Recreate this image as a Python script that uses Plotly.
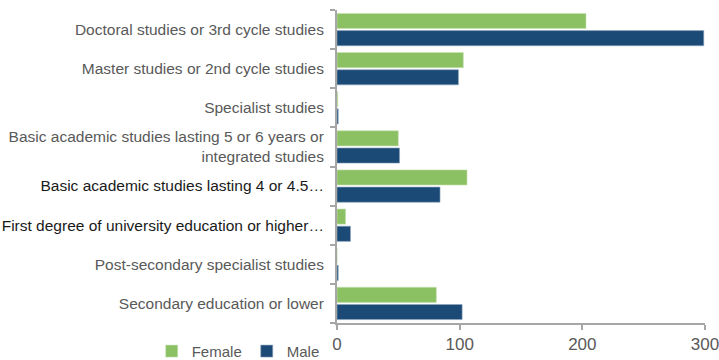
import plotly.graph_objects as go

# Education levels (top to bottom) and counts by sex
categories = [
    "Doctoral studies or 3rd cycle studies",
    "Master studies or 2nd cycle studies",
    "Specialist studies",
    "Basic academic studies lasting 5 or 6 years or<br>integrated studies",
    "Basic academic studies lasting 4 or 4.5…",
    "First degree of university education or higher…",
    "Post-secondary specialist studies",
    "Secondary education or lower",
]
female = [203, 103, 0.6, 50, 106, 7, 0, 81]
male = [299, 99, 1, 51, 84, 11, 1, 102]

# The two shortened labels are set in dark text
dark_labels = {4, 5}
tick_text = [
    f'<span style="color:#1a1a1a">{c}</span>' if i in dark_labels else c
    for i, c in enumerate(categories)
]

GREEN = "#8BC063"
NAVY = "#1A4A75"
AXIS = "#A6A6A6"
FONT = "Liberation Sans, Arial, sans-serif"

fig = go.Figure()
fig.add_trace(go.Bar(
    name="Female", y=categories, x=female, orientation="h",
    marker=dict(color=GREEN, line=dict(color="#C9E2B5", width=0.6)),
))
fig.add_trace(go.Bar(
    name="Male", y=categories, x=male, orientation="h",
    marker=dict(color=NAVY, line=dict(color="#8FA6BD", width=0.6)),
))

fig.update_layout(
    width=719, height=360,
    margin=dict(l=337, r=14, t=10, b=37, autoexpand=False),
    paper_bgcolor="white", plot_bgcolor="white",
    barmode="group", bargap=0.12, bargroupgap=0.12,
    font=dict(family=FONT, size=15, color="#595959"),
    legend=dict(
        orientation="h", xref="container", yref="container",
        x=0.211, xanchor="left", y=0.024, yanchor="middle",
        font=dict(size=15, color="#595959"), itemwidth=30,
        traceorder="normal", bgcolor="rgba(0,0,0,0)",
    ),
    xaxis=dict(
        range=[0, 300], tickvals=[0, 100, 200, 300],
        showgrid=False, zeroline=False, automargin=False,
        ticklabeloverflow="allow",
        showline=True, linecolor=AXIS, linewidth=2,
        ticks="outside", ticklen=5, tickcolor=AXIS, tickwidth=1.5,
        tickfont=dict(size=17, color="#595959"),
    ),
    yaxis=dict(
        autorange="reversed", type="category",
        tickvals=categories, ticktext=tick_text,
        showgrid=False, zeroline=False, automargin=False,
        ticklabeloverflow="allow", ticklabelstandoff=8,
        showline=True, linecolor=AXIS, linewidth=2,
        ticks="outside", ticklen=5, tickcolor=AXIS, tickwidth=1.5,
        tickson="boundaries",
        tickfont=dict(size=15.5, color="#595959"),
    ),
)

fig.write_html("out.html")
